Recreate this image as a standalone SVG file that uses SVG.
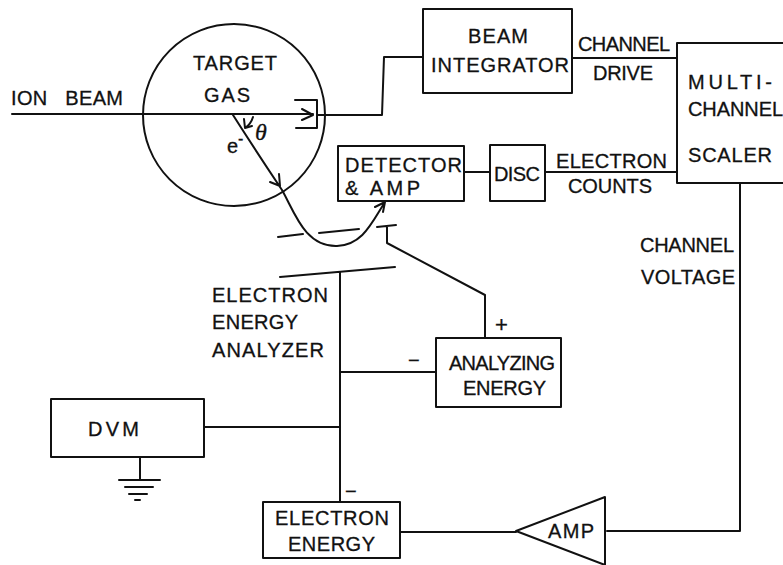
<svg xmlns="http://www.w3.org/2000/svg" width="783" height="565" viewBox="0 0 783 565">
<style>
.l{fill:none;stroke:#111;stroke-width:2;stroke-linecap:round;stroke-linejoin:round}
.b{fill:#fff;stroke:#111;stroke-width:2;stroke-linejoin:round}
text{font-family:"Liberation Sans",Arial,sans-serif;font-size:20px;fill:#111;stroke:#111;stroke-width:.3;white-space:pre}
</style>
<rect width="783" height="565" fill="#fff"/>
<g id="target" class="l"><circle cx="234" cy="115" r="91"/></g>
<g id="connectors" class="l">
<path d="M12 114H313M302 109L313 115L302 120"/>
<path d="M317 115H382L384 57H423"/>
<path d="M295 100H317V128H296"/>
<path d="M233 115C247 137 262 160 282 190C295 213 305 247 337 246C363 245 372 222 385 202M375 207L385 202L383 212M270 182L280 186L279 174"/>
<path d="M253 117Q251 124 245 128M244 119L245 128L252 126"/>
<path d="M278 237L303 234M319 233L359 229M377 227L396 225M387 226V243L485 295V337"/>
<path d="M280 277L395 267M340 272V502"/>
<path d="M340 372H436M205 427H340"/>
<path d="M401 532H516M607 531H740V183"/>
<path d="M573 58H677M545 172H677M464 172H490"/>
<path d="M140 457V480M119 480H160M125 487H153M129 494H147M135 500H140"/>
</g>
<g id="beam-integrator"><rect class="b" x="423" y="9" width="149" height="84"/><text x="468" y="43" textLength="60">BEAM</text><text x="431" y="72" textLength="138">INTEGRATOR</text></g>
<g id="scaler"><rect class="b" x="677" y="43" width="110" height="140"/><text x="688" y="89" textLength="84">MULTI-</text><text x="688" y="116" textLength="95">CHANNEL</text><text x="688" y="162" textLength="84">SCALER</text></g>
<g id="detector"><rect class="b" x="338" y="146" width="126" height="55"/><text x="345" y="172" textLength="117">DETECTOR</text><text x="345" y="195" textLength="75">&amp; AMP</text></g>
<g id="disc"><rect class="b" x="490" y="145" width="55" height="56"/><text x="494" y="181" textLength="46">DISC</text></g>
<g id="analyzing"><rect class="b" x="436" y="338" width="125" height="69"/><text x="449" y="370" textLength="106">ANALYZING</text><text x="463" y="395" textLength="83">ENERGY</text></g>
<g id="dvm"><rect class="b" x="51" y="399" width="153" height="58"/><text x="88" y="436" textLength="51">DVM</text></g>
<g id="electron-energy"><rect class="b" x="263" y="502" width="137" height="56"/><text x="275" y="525" textLength="114">ELECTRON</text><text x="288" y="551" textLength="87">ENERGY</text></g>
<g id="amp"><path class="b" d="M516 531L605 497V565Z"/><text x="548" y="538" textLength="46">AMP</text></g>
<g id="labels">
<text x="11" y="105" textLength="112">ION   BEAM</text>
<text x="193" y="70" textLength="84">TARGET</text>
<text x="204" y="102" textLength="46">GAS</text>
<text x="255" y="140" style="font-family:'Liberation Serif',serif;font-style:italic;font-size:24px">θ</text>
<text x="227" y="153">e</text><text x="238" y="144" style="font-size:16px">-</text>
<text x="578" y="51" textLength="92">CHANNEL</text>
<text x="593" y="80" textLength="60">DRIVE</text>
<text x="556" y="168" textLength="111">ELECTRON</text>
<text x="568" y="193" textLength="84">COUNTS</text>
<text x="640" y="252" textLength="94">CHANNEL</text>
<text x="641" y="284" textLength="94">VOLTAGE</text>
<text x="212" y="302" textLength="116">ELECTRON</text>
<text x="212" y="329" textLength="86">ENERGY</text>
<text x="212" y="357" textLength="112">ANALYZER</text>
<text x="495" y="332" style="font-size:22px">+</text>
<text x="408" y="367" style="font-size:20px">−</text>
<text x="345" y="498" style="font-size:20px">−</text>
</g>
</svg>
